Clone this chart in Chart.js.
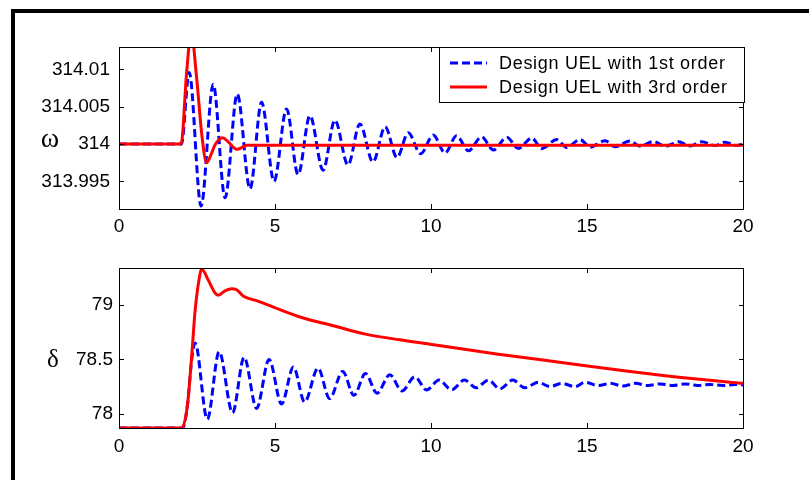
<!DOCTYPE html>
<html>
<head>
<meta charset="utf-8">
<script src="https://cdn.jsdelivr.net/npm/chart.js@4.4.0/dist/chart.umd.min.js"></script>
<style>
  body { margin: 0; background: #fff; }
  #page { position: relative; width: 809px; height: 480px; overflow: hidden; background: #fff; }
  #frame { position: absolute; left: 11px; top: 9px; width: 820px; height: 500px;
           border-left: 4px solid #000; border-top: 4px solid #000; }
  .plot { position: absolute; left: 0; }
</style>
</head>
<body>
<div id="page">
  <div id="frame"></div>
  <canvas id="omegaChart" class="plot" style="top:0" width="809" height="240"></canvas>
  <canvas id="deltaChart" class="plot" style="top:240px" width="809" height="240"></canvas>
</div>

<script>
// time axis (s)
const xTicks = [0, 5, 10, 15, 20];

// speed omega, 1st order UEL (dashed blue)
const tW1 = [0, 2.0, 2.25, 2.63, 3.02, 3.40, 3.79, 4.20, 4.57, 4.97,
             5.37, 5.74, 6.12, 6.54, 6.92, 7.34, 7.72, 8.14, 8.53, 8.91,
             9.27, 9.67, 10.07, 10.45, 10.82, 11.2, 11.62, 12.0, 12.43, 12.8,
             13.23, 13.55, 14.03, 14.35, 14.78, 15.1, 15.58, 15.9, 16.38, 16.7,
             17.13, 17.5, 17.93, 18.3, 18.68, 19.1, 19.42, 19.8, 20];
const wFirst = [314, 314, 314.0096, 313.9917, 314.0080, 313.9928, 314.0067, 313.9940, 314.0056, 313.9950,
                314.0047, 313.9959, 314.0038, 313.9965, 314.0032, 313.9972, 314.0027, 313.9976, 314.0023, 313.9982,
                314.0015, 313.9987, 314.0012, 313.9988, 314.0011, 313.9991, 314.00095, 313.9992, 314.0009, 313.9994,
                314.0008, 313.9994, 314.0006, 313.99955, 314.0006, 313.9996, 314.00045, 313.99964, 314.0004, 313.9997,
                314.00035, 313.9997, 314.0003, 313.99975, 314.0003, 313.9998, 314.00025, 313.9998, 314.0];

// speed omega, 3rd order UEL (solid red)
const tW3 = [0, 1.99, 2.17, 2.31, 2.49, 2.65, 2.81, 2.97, 3.08, 3.32, 3.5, 3.77, 3.99, 4.09, 20];
const wThird = [314, 314, 314.0097, 314.0150, 314.0088, 314.0014, 313.9975, 313.9988, 313.9999,
                314.00085, 314.0003, 313.9993, 313.99964, 313.99985, 313.99985];

// rotor angle delta, 1st order UEL
const tD1 = [0, 2.04, 2.19, 2.33, 2.44, 2.83, 3.21, 3.64, 4.01, 4.41,
             4.81, 5.21, 5.59, 5.95, 6.38, 6.75, 7.17, 7.53, 7.90, 8.27,
             8.68, 9.07, 9.48, 9.86, 10.26, 10.66, 11.07, 11.45, 11.84, 12.21,
             12.62, 13.01, 13.44, 13.81, 14.19, 14.62, 14.94, 15.36, 15.75, 16.15,
             16.55, 16.95, 17.35, 17.75, 18.15, 18.55, 18.95, 19.35, 19.75, 20];
const dFirst = [77.87, 77.87, 78.07, 78.50, 78.65, 77.95, 78.57, 78.01, 78.52, 78.05,
                78.50, 78.09, 78.43, 78.11, 78.42, 78.14, 78.39, 78.17, 78.37, 78.19,
                78.36, 78.21, 78.34, 78.22, 78.31, 78.22, 78.31, 78.24, 78.31, 78.23,
                78.31, 78.24, 78.29, 78.25, 78.28, 78.25, 78.29, 78.26, 78.28, 78.255,
                78.28, 78.26, 78.275, 78.26, 78.275, 78.26, 78.27, 78.26, 78.27, 78.265];

// rotor angle delta, 3rd order UEL
const tD3 = [0, 2.01, 2.19, 2.33, 2.44, 2.60, 2.65, 2.86, 3.08, 3.18, 3.40, 3.61, 3.77,
             3.99, 4.41, 4.95, 5.8, 6.87, 7.94, 9.0, 9.97, 12.1, 14.24, 16.38, 18.52, 20];
const dThird = [77.87, 77.87, 78.07, 78.53, 78.95, 79.29, 79.33, 79.23, 79.11, 79.09, 79.13, 79.15, 79.14,
                79.08, 79.04, 78.98, 78.89, 78.81, 78.73, 78.68, 78.64, 78.55, 78.47, 78.39, 78.32, 78.28];

const wTicks = [313.995, 314, 314.005, 314.01];
const dTicks = [78, 78.5, 79];

const labelFirst = 'Design UEL with 1st order';
const labelThird = 'Design UEL with 3rd order';

const FONT = '"Liberation Sans", Arial, Helvetica, sans-serif';
Chart.defaults.color = '#000';
Chart.defaults.font.family = FONT;
Chart.defaults.font.size = 19;

function pts(ts, vs) { return ts.map((t, i) => ({ x: t, y: vs[i] })); }

// matlab style box, inward ticks, symbol label, optional legend
const boxPlugin = {
  id: 'matlabBox',
  afterDraw(chart, args, o) {
    const { ctx, chartArea: a, scales: { x, y } } = chart;
    ctx.save();
    ctx.strokeStyle = '#000';
    ctx.lineWidth = 1;
    ctx.strokeRect(a.left + 0.5, a.top + 0.5, a.right - a.left, a.bottom - a.top);
    ctx.beginPath();
    xTicks.forEach(v => {
      const px = Math.round(x.getPixelForValue(v)) + 0.5;
      ctx.moveTo(px, a.bottom); ctx.lineTo(px, a.bottom - 5);
      ctx.moveTo(px, a.top); ctx.lineTo(px, a.top + 5);
    });
    o.yTicks.forEach(v => {
      const py = Math.round(y.getPixelForValue(v)) + 0.5;
      ctx.moveTo(a.left, py); ctx.lineTo(a.left + 5, py);
      ctx.moveTo(a.right + 1, py); ctx.lineTo(a.right - 4, py);
    });
    ctx.stroke();

    ctx.fillStyle = '#000';
    ctx.font = o.symbolFont;
    ctx.textAlign = 'center';
    ctx.textBaseline = 'middle';
    ctx.fillText(o.symbol, o.symbolX, y.getPixelForValue(o.symbolAt) + o.symbolDy);

    if (o.legend) {
      const L = o.legend;
      ctx.fillStyle = '#fff';
      ctx.fillRect(L.x, L.y, L.w, L.h);
      ctx.strokeRect(L.x + 0.5, L.y + 0.5, L.w, L.h);
      chart.data.datasets.forEach((ds, i) => {
        const ly = L.y + 16 + i * 24;
        ctx.strokeStyle = ds.borderColor;
        ctx.lineWidth = ds.borderWidth;
        ctx.setLineDash(ds.borderDash || []);
        ctx.beginPath();
        ctx.moveTo(L.x + 11, ly); ctx.lineTo(L.x + 48, ly);
        ctx.stroke();
        ctx.setLineDash([]);
        ctx.fillStyle = '#000';
        ctx.font = '18px ' + FONT;
        ctx.textAlign = 'left';
        ctx.letterSpacing = '0.7px';
        ctx.fillText(ds.label, L.x + 60, ly + 1);
        ctx.letterSpacing = '0px';
      });
    }
    ctx.restore();
  }
};

function makeChart(id, first, third, yMin, yMax, yTicks, box, xPad, padTop, xHeight, yPad) {
  return new Chart(document.getElementById(id), {
    type: 'line',
    data: {
      datasets: [
        { label: labelFirst, data: first, borderColor: '#0000ff', borderWidth: 3,
          borderDash: [8, 4], pointRadius: 0, cubicInterpolationMode: 'monotone', order: 2 },
        { label: labelThird, data: third, borderColor: '#ff0000', borderWidth: 3,
          pointRadius: 0, cubicInterpolationMode: 'monotone', order: 1 }
      ]
    },
    options: {
      responsive: false,
      animation: false,
      layout: { padding: { left: 0, right: 66, top: padTop, bottom: 0 } },
      plugins: { legend: { display: false }, tooltip: { enabled: false }, matlabBox: box },
      scales: {
        x: {
          type: 'linear', min: 0, max: 20,
          grid: { display: false, drawTicks: false }, border: { display: false },
          afterBuildTicks: s => { s.ticks = xTicks.map(v => ({ value: v })); },
          afterFit: s => { s.height = xHeight; },
          ticks: { padding: xPad, maxRotation: 0, callback: v => String(v) }
        },
        y: {
          type: 'linear', min: yMin, max: yMax,
          grid: { display: false, drawTicks: false }, border: { display: false },
          afterBuildTicks: s => { s.ticks = yTicks.map(v => ({ value: v })); },
          afterFit: s => { s.width = 119; },
          ticks: { padding: yPad, callback: v => String(+Number(v).toFixed(3)) }
        }
      }
    },
    plugins: [boxPlugin]
  });
}

makeChart('omegaChart', pts(tW1, wFirst), pts(tW3, wThird), 313.9913, 314.0130, wTicks,
  { yTicks: wTicks, symbol: 'ω', symbolFont: '28px "Liberation Serif", "Times New Roman", serif',
    symbolX: 50, symbolAt: 314, symbolDy: -4,
    legend: { x: 439, y: 47, w: 305, h: 55 } },
  6, 47, 31, 9);

makeChart('deltaChart', pts(tD1, dFirst), pts(tD3, dThird), 77.87, 79.34, dTicks,
  { yTicks: dTicks, symbol: 'δ', symbolFont: '25px "Liberation Serif", "Times New Roman", serif',
    symbolX: 53, symbolAt: 78.5, symbolDy: 1 },
  7, 28, 52, 6);
</script>
</body>
</html>
